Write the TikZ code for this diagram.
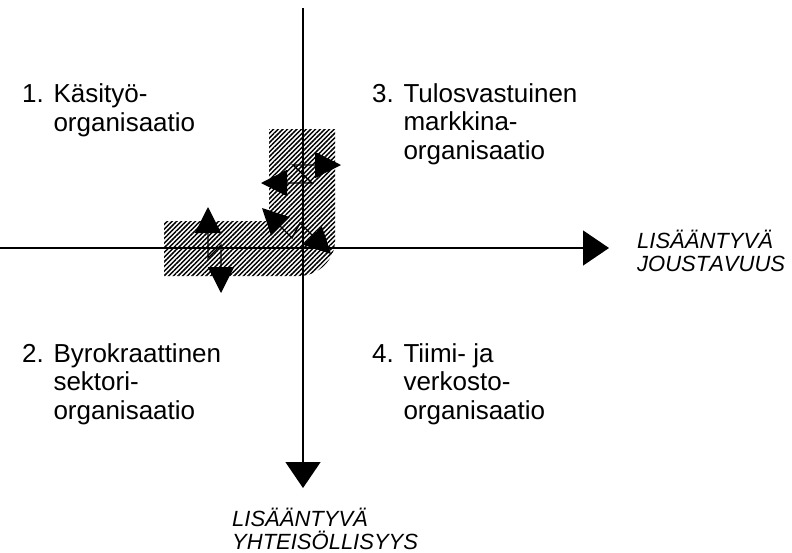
\documentclass[tikz,border=0pt]{standalone}
\usepackage{fontspec}
\setmainfont{Liberation Sans}
\usetikzlibrary{arrows.meta,patterns.meta}
\begin{document}
\begin{tikzpicture}[x=1pt,y=-1pt,
  axis/.style={line width=1.4pt,-{Triangle[width=35pt,length=26pt]}},
  shiftarrow/.style={line width=1.4pt,
    {Triangle[width=26pt,length=26pt]}-{Triangle[width=26pt,length=26pt]}},
  quadrant/.style={anchor=base west,align=left,inner sep=0pt,
    font=\fontsize{26}{28.5}\selectfont},
  axislabel/.style={anchor=base west,align=left,inner sep=0pt,
    font=\fontsize{22}{22.5}\selectfont\itshape\addfontfeature{Kerning=Off}},
  zone/.style={pattern={Lines[angle=45,distance=3.3pt,line width=1.5pt]}}
]
\useasboundingbox (0,0) rectangle (792,552);

% hatched L-shaped transition zone
\fill[zone] (269,129) -- (335,129) -- (335,241)
  .. controls (335,260) and (318,276) .. (299,276)
  -- (164,276) -- (164,221) -- (269,221) -- cycle;

% axes
\coordinate (xstart) at (0,248);
\coordinate (xend)   at (609,248);
\coordinate (ystart) at (303,8);
\coordinate (yend)   at (303,488);
\draw[axis] (xstart) -- (xend);
\draw[axis] (ystart) -- (yend);

% broken double arrows inside the zone
\coordinate (a1) at (208,207); \coordinate (a2) at (208,258);
\coordinate (a3) at (221,245); \coordinate (a4) at (221,293);
\draw[shiftarrow] (a1) -- (a2) -- (a3) -- (a4);

\coordinate (b1) at (261,183); \coordinate (b2) at (312,183);
\coordinate (b3) at (293,165); \coordinate (b4) at (341,165);
\draw[shiftarrow] (b1) -- (b2) -- (b3) -- (b4);

\coordinate (c1) at (262,208); \coordinate (c2) at (292,238);
\coordinate (c3) at (300,223); \coordinate (c4) at (331,254);
\draw[shiftarrow] (c1) -- (c2) -- (c3) -- (c4);

% quadrant labels (anchored at the baseline of their last line)
\node[quadrant] (q1) at (22,131) {1. Käsityö-\\\phantom{1. }organisaatio};
\node[quadrant] (q3) at (372,159) {3. Tulosvastuinen\\\phantom{3. }markkina-\\\phantom{3. }organisaatio};
\node[quadrant] (q2) at (22,419) {2. Byrokraattinen\\\phantom{2. }sektori-\\\phantom{2. }organisaatio};
\node[quadrant] (q4) at (372,419) {4. Tiimi- ja\\\phantom{4. }verkosto-\\\phantom{4. }organisaatio};

% axis labels
\node[axislabel] (xlab) at (637,271) {LISÄÄNTYVÄ\\JOUSTAVUUS};
\node[axislabel] (ylab) at (232,549) {LISÄÄNTYVÄ\\YHTEISÖLLISYYS};
\end{tikzpicture}
\end{document}
